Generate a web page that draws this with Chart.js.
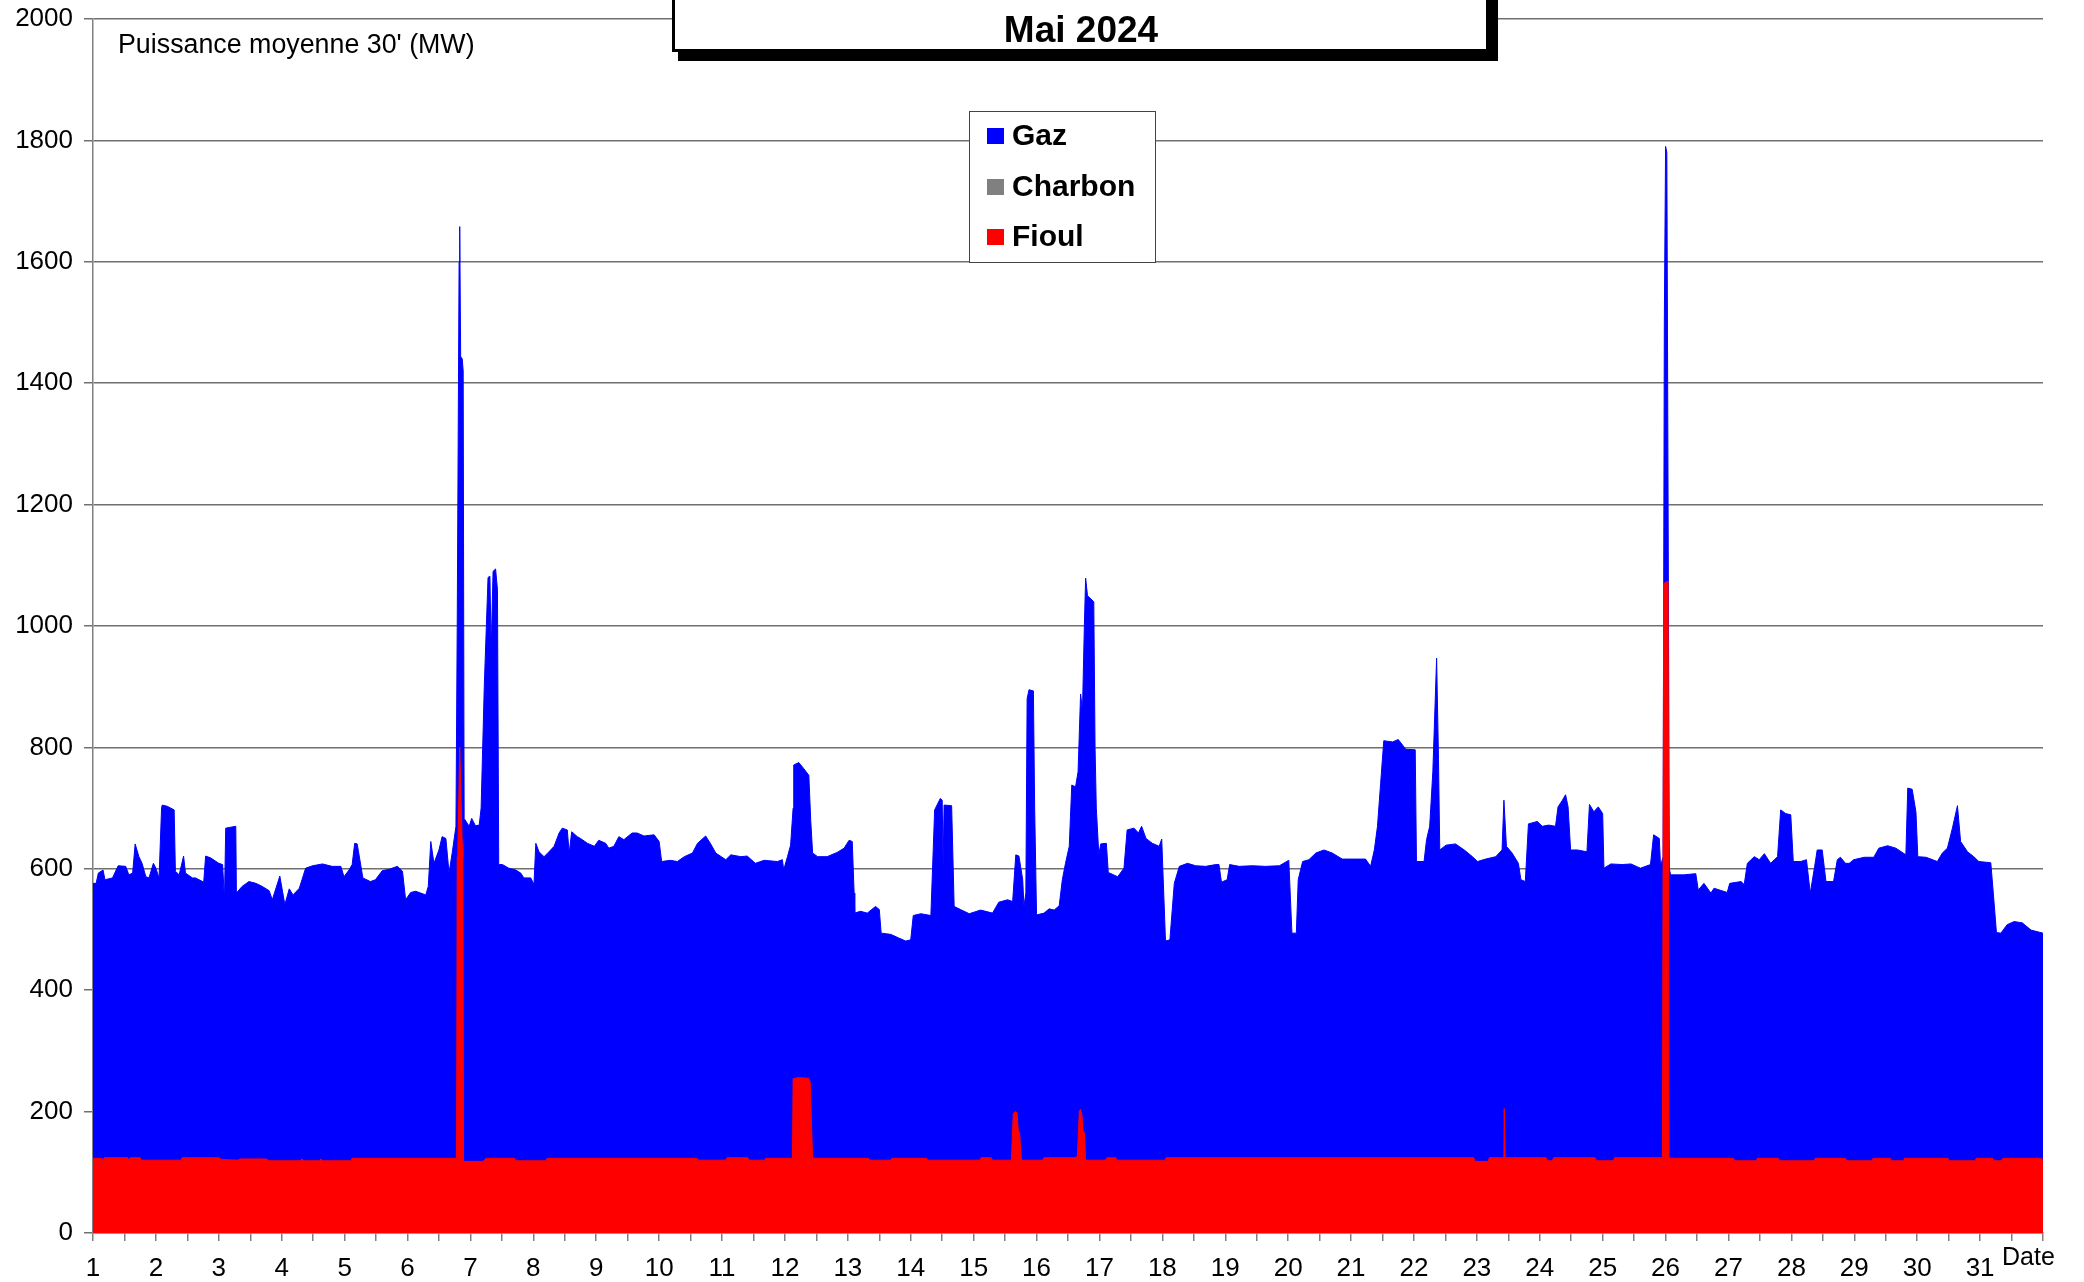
<!DOCTYPE html>
<html><head><meta charset="utf-8">
<script src="https://cdn.jsdelivr.net/npm/chart.js@4.4.1/dist/chart.umd.min.js"></script>
<style>html,body{margin:0;padding:0;background:#fff;}#wrap{width:2084px;height:1282px;position:relative;}canvas{display:block;}</style>
</head><body><div id="wrap"><canvas id="c" width="2084" height="1282"></canvas></div>
<script>
const chartTitle = 'Mai 2024';
const yAxisTitle = "Puissance moyenne 30' (MW)";
const xAxisTitle = 'Date';
const seriesNames = ['Gaz', 'Charbon', 'Fioul'];
const seriesColors = ['#0000ff', '#808080', '#ff0000'];
const dayLabels = [1,2,3,4,5,6,7,8,9,10,11,12,13,14,15,16,17,18,19,20,21,22,23,24,25,26,27,28,29,30,31];

// Gaz: top of the blue band (cumulated level as read on the picture), time in days of May
const gazTime = [1.00,1.05,1.085,1.16,1.19,1.31,1.40,1.52,1.57,1.63,1.67,1.73,1.78,1.84,1.89,1.96,2.00,2.05,2.09,2.10,2.18,2.29,2.31,2.37,2.44,2.47,2.58,2.63,2.76,2.79,2.87,3.00,3.06,3.09,3.11,3.27,3.28,3.37,3.48,3.59,3.69,3.80,3.85,3.90,3.97,4.05,4.12,4.18,4.28,4.38,4.49,4.65,4.80,4.94,4.99,5.07,5.12,5.16,5.20,5.26,5.29,5.41,5.49,5.60,5.70,5.84,5.92,5.97,6.05,6.13,6.29,6.33,6.37,6.42,6.50,6.55,6.61,6.66,6.71,6.77,6.79,6.82,6.83,6.845,6.87,6.885,6.90,6.95,6.98,7.02,7.08,7.14,7.17,7.22,7.28,7.31,7.33,7.36,7.40,7.43,7.45,7.51,7.61,7.72,7.80,7.85,7.96,8.01,8.04,8.09,8.17,8.22,8.33,8.41,8.46,8.54,8.57,8.61,8.70,8.75,8.86,8.97,9.04,9.15,9.20,9.28,9.36,9.44,9.57,9.65,9.76,9.92,10.00,10.04,10.18,10.29,10.40,10.53,10.61,10.74,10.82,10.90,11.06,11.14,11.30,11.40,11.53,11.67,11.88,11.96,11.98,12.04,12.09,12.13,12.14,12.22,12.30,12.38,12.41,12.44,12.52,12.67,12.83,12.94,13.02,13.07,13.10,13.11,13.20,13.31,13.44,13.50,13.53,13.68,13.81,13.92,14.00,14.04,14.16,14.32,14.38,14.47,14.50,14.515,14.53,14.65,14.69,14.79,14.93,15.11,15.30,15.40,15.54,15.62,15.67,15.72,15.78,15.80,15.83,15.85,15.88,15.95,15.97,16.00,16.12,16.20,16.28,16.36,16.41,16.46,16.52,16.56,16.62,16.66,16.70,16.73,16.76,16.78,16.81,16.85,16.91,16.93,16.95,16.99,17.02,17.11,17.14,17.29,17.39,17.44,17.55,17.62,17.67,17.74,17.84,17.95,17.99,18.05,18.12,18.19,18.27,18.40,18.53,18.69,18.85,18.90,18.94,19.03,19.07,19.22,19.43,19.64,19.86,20.01,20.06,20.13,20.16,20.23,20.33,20.44,20.57,20.70,20.86,21.02,21.23,21.31,21.37,21.42,21.47,21.52,21.66,21.75,21.87,22.02,22.04,22.16,22.20,22.25,22.30,22.36,22.39,22.41,22.51,22.66,22.80,22.93,23.01,23.14,23.30,23.40,23.43,23.47,23.56,23.66,23.70,23.77,23.82,23.96,24.04,24.14,24.25,24.29,24.36,24.41,24.45,24.49,24.60,24.75,24.79,24.86,24.93,25.00,25.02,25.13,25.31,25.45,25.60,25.76,25.81,25.90,25.92,25.96,25.98,26.00,26.02,26.04,26.06,26.08,26.29,26.48,26.52,26.61,26.72,26.77,26.98,27.02,27.20,27.25,27.30,27.41,27.49,27.57,27.67,27.78,27.83,27.91,27.99,28.03,28.15,28.24,28.30,28.37,28.41,28.49,28.55,28.67,28.73,28.78,28.86,28.92,28.99,29.16,29.31,29.39,29.53,29.66,29.82,29.85,29.92,29.98,30.01,30.14,30.32,30.40,30.48,30.56,30.64,30.69,30.80,30.90,30.98,31.17,31.21,31.26,31.33,31.43,31.54,31.67,31.81,32.00];
const gazValue = [576,576,593,598,582,585,605,604,590,593,641,620,609,587,585,609,601,585,700,705,703,697,596,590,621,593,585,585,578,621,618,609,607,550,667,670,560,571,579,576,571,564,549,565,588,541,567,557,568,601,605,608,604,604,587,598,607,642,641,604,585,579,582,597,599,604,596,549,561,563,557,571,645,609,631,653,650,593,626,670,1000,1600,1658,1444,1440,1420,683,675,670,683,671,672,700,900,1080,1082,960,1090,1094,1060,607,607,601,598,593,585,585,574,642,628,620,625,637,659,667,664,626,661,653,650,642,637,647,642,634,637,653,648,659,659,654,656,645,612,614,612,620,626,642,654,641,626,615,623,620,621,609,614,612,615,598,620,639,700,771,775,765,754,680,626,620,620,627,634,647,645,560,527,530,527,538,533,494,492,486,481,483,523,526,523,697,716,713,604,705,704,538,533,526,532,527,545,549,546,623,621,582,538,560,880,895,893,700,524,527,534,532,539,582,609,637,738,735,760,888,860,1000,1079,1050,1046,1040,800,700,623,641,642,594,587,601,664,667,659,670,650,642,637,649,481,483,576,604,609,605,604,607,607,578,582,607,604,605,604,605,614,494,494,582,612,615,626,631,626,616,616,616,604,631,670,741,811,809,813,797,796,612,612,648,670,760,947,780,631,639,641,631,620,612,616,620,631,713,637,626,609,582,579,674,678,670,672,670,702,713,722,702,631,631,628,706,694,702,691,601,608,607,608,601,607,656,650,604,620,1500,1790,1780,1200,600,590,590,592,565,576,560,568,561,576,579,574,609,620,615,625,609,620,697,691,689,612,612,615,560,604,631,631,579,579,615,619,609,609,615,619,619,634,638,634,623,733,731,694,620,619,612,626,634,667,704,645,628,620,612,610,560,495,494,508,513,511,499,494];

// Charbon: nothing visible over the month
const charbonTime = [];
const charbonValue = [];

// Fioul: red band
const fioulTime = [1.00,1.14,1.15,1.18,1.55,1.57,1.59,1.75,1.77,2.40,2.42,3.00,3.05,3.30,3.35,3.75,3.80,4.30,4.32,4.35,4.60,4.62,4.65,5.10,5.12,6.78,6.79,6.80,6.83,6.87,6.88,6.89,7.20,7.25,7.70,7.72,8.20,8.22,10.60,10.63,11.06,11.08,11.41,11.43,11.67,11.70,12.10,12.12,12.13,12.20,12.37,12.40,12.44,13.33,13.35,13.68,13.70,14.25,14.27,15.10,15.12,15.28,15.30,15.60,15.63,15.66,15.69,15.71,15.73,15.76,16.10,16.12,16.60,16.65,16.68,16.70,16.72,16.74,16.76,16.78,17.10,17.12,17.26,17.27,18.05,18.06,22.95,22.97,23.18,23.20,23.43,23.435,23.445,23.45,24.10,24.12,24.20,24.22,24.88,24.90,25.17,25.19,25.95,25.97,26.04,26.055,26.07,27.08,27.10,27.44,27.46,27.79,27.81,28.36,28.38,28.86,28.88,29.28,29.30,29.57,29.59,29.78,29.80,30.49,30.51,30.92,30.94,31.20,31.22,31.34,31.36,31.98,32.00];
const fioulValue = [123,123,119,124,124,120,124,124,120,120,124,124,121,120,122,122,119,119,122,119,119,122,119,119,123,123,620,630,800,640,620,118,118,123,123,119,119,123,123,120,120,124,124,120,120,123,123,124,254,256,255,250,123,123,120,120,123,123,120,120,124,124,120,120,196,200,198,168,165,120,120,124,124,126,200,204,195,168,165,120,120,124,124,120,120,124,124,118,118,124,124,205,205,124,124,119,119,124,124,119,119,124,124,1070,1074,124,123,123,119,119,123,123,119,119,123,123,119,119,123,123,119,119,123,123,119,119,123,123,119,119,123,123,119];

const FONT = "'Liberation Sans', Arial, Helvetica, sans-serif";
const pts = (t, v) => t.map((x, i) => ({x: x, y: v[i]}));

const overlayPlugin = {
  id: 'overlay',
  afterDraw(chart) {
    const ctx = chart.ctx;
    ctx.save();
    ctx.fillStyle = '#000';
    ctx.font = '26.8px ' + FONT;
    ctx.textAlign = 'left';
    ctx.textBaseline = 'alphabetic';
    ctx.fillText(yAxisTitle, 118, 53);
    ctx.font = '25px ' + FONT;
    ctx.fillText(xAxisTitle, 2002, 1265);
    const bx0 = 672, bx1 = 1489, by1 = 52;
    ctx.fillStyle = '#000';
    ctx.fillRect(bx0 + 6, -10, bx1 - bx0 + 3, by1 + 10 + 9);
    ctx.fillStyle = '#fff';
    ctx.fillRect(bx0, -10, bx1 - bx0, by1 + 10);
    ctx.strokeStyle = '#000';
    ctx.lineWidth = 3;
    ctx.strokeRect(bx0 + 1.5, -10, bx1 - bx0 - 3, by1 + 10 - 1.5);
    ctx.fillStyle = '#000';
    ctx.font = 'bold 37px ' + FONT;
    ctx.textAlign = 'center';
    ctx.fillText(chartTitle, 1081, 42);
    const lx0 = 969.5, ly0 = 111.5, lw = 186, lh = 151;
    ctx.fillStyle = '#fff';
    ctx.fillRect(lx0, ly0, lw, lh);
    ctx.strokeStyle = '#444';
    ctx.lineWidth = 1;
    ctx.strokeRect(lx0, ly0, lw, lh);
    ctx.textAlign = 'left';
    ctx.textBaseline = 'middle';
    ctx.font = 'bold 30px ' + FONT;
    const rows = [136, 187, 237];
    seriesNames.forEach((n, i) => {
      ctx.fillStyle = seriesColors[i];
      ctx.fillRect(987, rows[i] - 8, 17, 16);
      ctx.fillStyle = '#000';
      ctx.fillText(n, 1012, rows[i] + 1);
    });
    ctx.restore();
  }
};

new Chart(document.getElementById('c'), {
  type: 'line',
  data: {
    datasets: [
      { label: seriesNames[0], data: pts(gazTime, gazValue), borderColor: seriesColors[0], backgroundColor: seriesColors[0], borderWidth: 1, pointRadius: 0, fill: 'origin', tension: 0, order: 3 },
      { label: seriesNames[1], data: pts(charbonTime, charbonValue), borderColor: seriesColors[1], backgroundColor: seriesColors[1], borderWidth: 1, pointRadius: 0, fill: 'origin', tension: 0, order: 2 },
      { label: seriesNames[2], data: pts(fioulTime, fioulValue), borderColor: seriesColors[2], backgroundColor: seriesColors[2], borderWidth: 1, pointRadius: 0, fill: 'origin', tension: 0, order: 1 }
    ]
  },
  options: {
    responsive: false,
    animation: false,
    devicePixelRatio: 1,
    layout: { padding: { top: 19, right: 41, left: 0, bottom: 0 } },
    plugins: { legend: { display: false }, tooltip: { enabled: false }, title: { display: false } },
    scales: {
      x: {
        type: 'linear', min: 1, max: 32,
        afterFit: s => { s.height = 49; s.paddingLeft = 0; s.paddingRight = 0; },
        ticks: {
          stepSize: 0.5, autoSkip: false, maxRotation: 0, minRotation: 0,
          font: { family: FONT, size: 26 }, color: '#000', padding: 12,
          callback: v => (Number.isInteger(v) && dayLabels.includes(v)) ? String(v) : ''
        },
        grid: { drawOnChartArea: false, drawTicks: true, tickLength: 8, color: '#808080', lineWidth: 1.5 },
        border: { display: true, color: '#808080', width: 1.5 }
      },
      y: {
        min: 0, max: 2000,
        afterFit: s => { s.width = 93; s.paddingTop = 0; s.paddingBottom = 0; },
        ticks: { stepSize: 200, font: { family: FONT, size: 26 }, color: '#000', padding: 11, callback: v => String(v) },
        grid: { color: '#707070', lineWidth: 1.5, tickLength: 9 },
        border: { display: true, color: '#808080', width: 1.5 }
      }
    }
  },
  plugins: [overlayPlugin]
});
</script>
</body></html>
